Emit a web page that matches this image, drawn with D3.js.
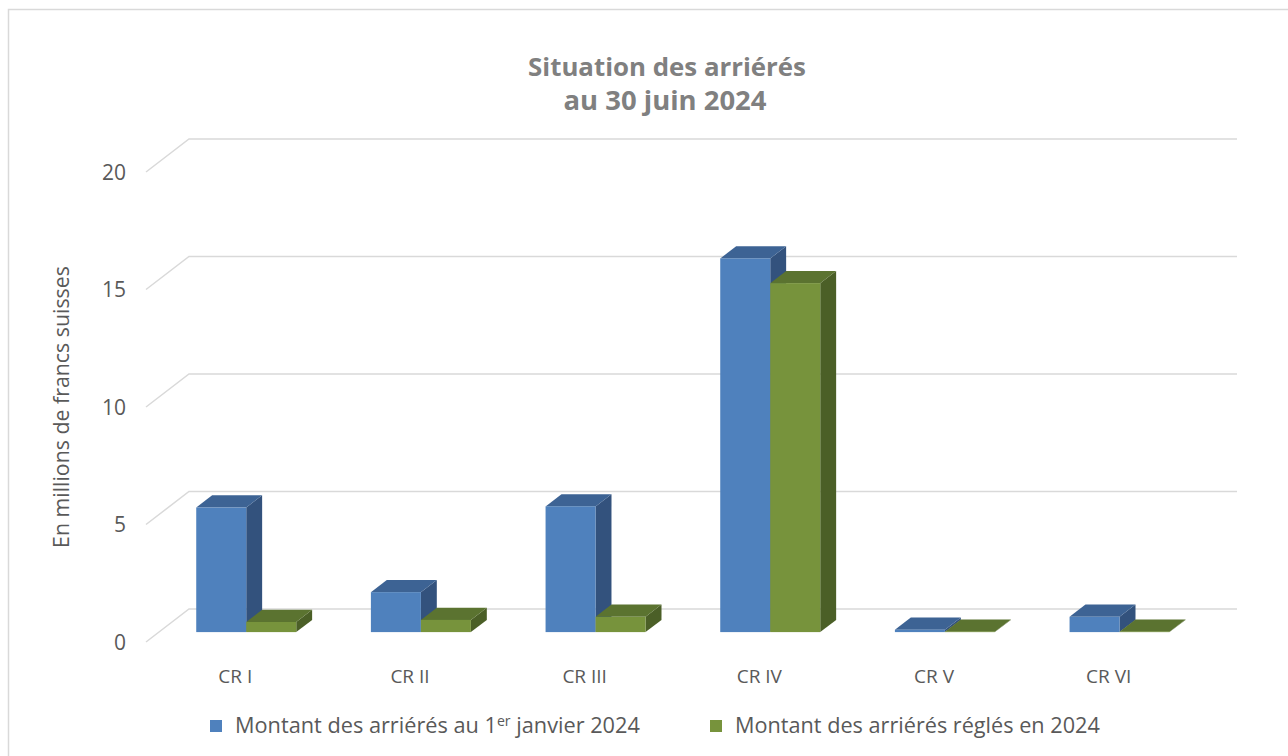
<!DOCTYPE html>
<html><head><meta charset="utf-8">
<script src="https://cdn.jsdelivr.net/npm/d3@7"></script>
<style>html,body{margin:0;padding:0;background:#fff;}svg{display:block;}</style>
</head><body>
<svg id="chart" width="1288" height="756"></svg>
<script>
const categories = ["CR I","CR II","CR III","CR IV","CR V","CR VI"];
const seriesNames = ["Montant des arriérés au 1er janvier 2024","Montant des arriérés réglés en 2024"];
const arrearsJan = [5.3, 1.7, 5.35, 15.9, 0.1, 0.65];
const arrearsPaid = [0.43, 0.52, 0.65, 14.85, 0.02, 0.02];
const yTicks = [0,5,10,15,20];
const titleLines = ["Situation des arriérés","au 30 juin 2024"];
const yTitle = "En millions de francs suisses";

const FONT = "'Open Sans', sans-serif";
const svg = d3.select("#chart");

// outer frame
svg.append("rect").attr("x",8.5).attr("y",9.5).attr("width",1290).attr("height",800)
  .attr("fill","#fff").attr("stroke","#d9d9d9").attr("stroke-width",1.5);

function fit(sel, target){
  const n = sel.node();
  const fs = parseFloat(sel.attr("font-size"));
  const w = n.getComputedTextLength();
  if (w>0) sel.attr("font-size", (fs*target/w).toFixed(2));
  return sel;
}

// geometry
const frontX0 = 146, frontX1 = 1194, frontY0 = 642;
const depth = [43,-33];
const y = d3.scaleLinear().domain([0,20]).range([0,470]);
const x = d3.scaleBand().domain(categories).range([frontX0, frontX1]);
const sx = d3.scaleBand().domain([0,1]).range([-50,50]);

// gridlines
const grid = svg.append("g");
yTicks.forEach(t=>{
  const fy = frontY0 - y(t);
  grid.append("path")
    .attr("d", `M${frontX0},${fy}L${frontX0+depth[0]},${fy+depth[1]}L${frontX1+depth[0]},${fy+depth[1]}`)
    .attr("fill","none").attr("stroke","#d9d9d9").attr("stroke-width",1.5);
  svg.append("text").attr("x",126).attr("y",fy).attr("dy","0.36em")
    .attr("text-anchor","end").attr("font-family",FONT).attr("font-size",21)
    .attr("fill","#595959").text(t);
});

// bars
const f0 = 0.3, f1 = 0.67;
const off = [depth[0]*f0, depth[1]*f0];
const bd = [depth[0]*(f1-f0), depth[1]*(f1-f0)];
const colors = [
  {front:"#4F81BD", top:"#3D6394", side:"#33527D"},
  {front:"#77933C", top:"#5B7330", side:"#4B5F27"}
];
const data = [arrearsJan, arrearsPaid];
const bars = svg.append("g");
categories.forEach((c,i)=>{
  [0,1].forEach(s=>{
    const v = data[s][i];
    const cx = x(c) + x.bandwidth()/2 + off[0];
    const x0 = cx + sx(s), x1 = x0 + sx.bandwidth();
    const yb = frontY0 + off[1];
    const yt = yb - y(v);
    const col = colors[s];
    const g = bars.append("g");
    g.append("path").attr("d",`M${x1},${yb}L${x1+bd[0]},${yb+bd[1]}L${x1+bd[0]},${yt+bd[1]}L${x1},${yt}Z`).attr("fill",col.side);
    g.append("path").attr("d",`M${x0},${yt}L${x1},${yt}L${x1+bd[0]},${yt+bd[1]}L${x0+bd[0]},${yt+bd[1]}Z`).attr("fill",col.top);
    g.append("rect").attr("x",x0).attr("y",yt).attr("width",x1-x0).attr("height",Math.max(0.5,yb-yt)).attr("fill",col.front);
  });
  svg.append("text").attr("x",x(c)+x.bandwidth()/2+2).attr("y",676).attr("dy","0.36em")
    .attr("text-anchor","middle").attr("font-family",FONT).attr("font-size",19)
    .attr("fill","#595959").text(c);
});

// title
const t1 = svg.append("text").attr("x",667).attr("y",76).attr("text-anchor","middle")
  .attr("font-family",FONT).attr("font-weight","bold").attr("font-size",24).attr("fill","#808080").text(titleLines[0]);
fit(t1,278);
const t2 = svg.append("text").attr("x",665).attr("y",110).attr("text-anchor","middle")
  .attr("font-family",FONT).attr("font-weight","bold").attr("font-size",24).attr("fill","#808080").text(titleLines[1]);
fit(t2,203);

// y-axis title
const yt = svg.append("text").attr("transform","translate(69,407) rotate(-90)").attr("text-anchor","middle")
  .attr("font-family",FONT).attr("font-size",18).attr("fill","#595959").text(yTitle);
fit(yt,282);

// legend
const leg = svg.append("g");
const lx = [210,710], tw = [405,365];
[0,1].forEach(s=>{
  leg.append("rect").attr("x",lx[s]).attr("y",720).attr("width",12).attr("height",12).attr("fill",colors[s].front);
  const t = leg.append("text").attr("x",lx[s]+25).attr("y",733).attr("font-family",FONT).attr("font-size",18).attr("fill","#595959");
  if (s===0){
    t.append("tspan").text("Montant des arriérés au 1");
    t.append("tspan").attr("dy",-7).attr("font-size","0.65em").text("er");
    t.append("tspan").attr("dy",7).text(" janvier 2024");
  } else {
    t.text(seriesNames[1]);
  }
  fit(t,tw[s]);
});
</script>
</body></html>
